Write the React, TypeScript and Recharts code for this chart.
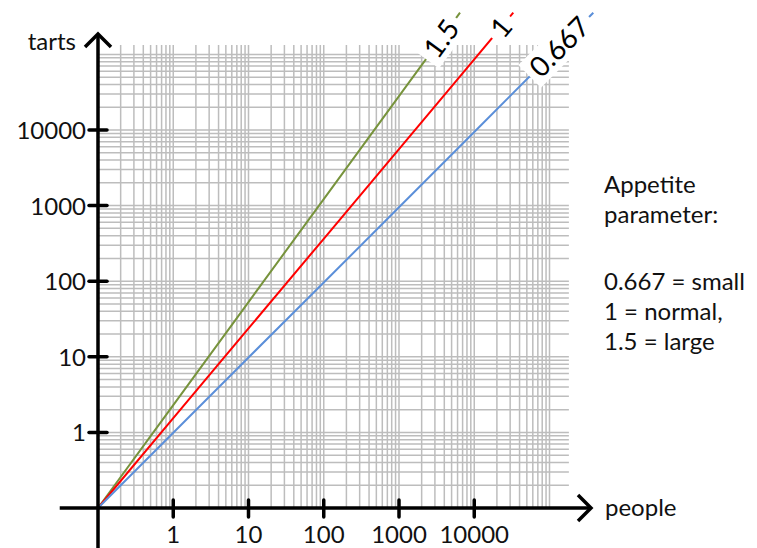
import { LineChart, Line, XAxis, YAxis, ReferenceLine, ReferenceDot } from 'recharts'

const FONT = 'Lato, "Open Sans", sans-serif'

// people -> tarts (log-log)
const large = [
  { x: 0.1, y: 0.1 },
  { x: 1, y: 2.3 },
  { x: 10, y: 53 },
  { x: 100, y: 1220 },
  { x: 1000, y: 28000 },
  { x: 6470, y: 356000 },
]
const normal = [
  { x: 0.1, y: 0.1 },
  { x: 1, y: 1.54 },
  { x: 10, y: 23.7 },
  { x: 100, y: 364 },
  { x: 1000, y: 5600 },
  { x: 10000, y: 86000 },
  { x: 33000, y: 356000 },
]
const small = [
  { x: 0.1, y: 0.1 },
  { x: 1, y: 0.99 },
  { x: 10, y: 9.8 },
  { x: 100, y: 96 },
  { x: 1000, y: 950 },
  { x: 10000, y: 9400 },
  { x: 100000, y: 93800 },
  { x: 382000, y: 356000 },
]

const xTicks = [1, 10, 100, 1000, 10000]
const yTicks = [1, 10, 100, 1000, 10000]
const tickLabels = ['1', '10', '100', '1000', '10000']

const decades = [0.1, 1, 10, 100, 1000, 10000]
const steps = [1, 2, 3, 4, 5, 6, 7, 8, 9]
const gridValues = [
  ...decades.flatMap((d) => steps.map((s) => +(d * s).toPrecision(3))).filter((v) => v > 0.1),
  100000,
]

const legendLines = ['Appetite', 'parameter:', '0.667 = small', '1 = normal,', '1.5 = large']

// pixel layout: 0.1 sits on the axes, one decade ~75px
const W = 757
const H = 548
const OX = 98
const OY = 508
const DX = 75.25
const DY = 75.6
const xDomain = [0.1 * 10 ** (-OX / DX), 0.1 * 10 ** ((W - OX) / DX)]
const yDomain = [0.1 * 10 ** (-(H - OY) / DY), 0.1 * 10 ** (OY / DY)]
const GRID_RIGHT = 181000
const GRID_TOP = 133000
const X_AXIS_LEFT = 0.031
const X_TIP = 356000
const Y_TIP = 186000

const GRID = '#bdbdbd'

const series = [
  { data: large, color: '#77933c', label: '1.5', angle: 53.8, dist: 32, w: 39 },
  { data: normal, color: '#ff0000', label: '1', angle: 50, dist: 19, w: 16 },
  { data: small, color: '#5b8fd9', label: '0.667', angle: 45, dist: 48, w: 72 },
]

const arrow = (dir: 'up' | 'right') => (p: any) => {
  const { cx, cy } = p
  const pts =
    dir === 'up'
      ? `${cx - 13},${cy + 13} ${cx},${cy} ${cx + 13},${cy + 13}`
      : `${cx - 13},${cy - 13} ${cx},${cy} ${cx - 13},${cy + 13}`
  return <polyline points={pts} fill="none" stroke="#000" strokeWidth={3.5} />
}

const xTick = (label: string) => (p: any) => (
  <g>
    <line x1={p.cx} x2={p.cx} y1={p.cy - 8} y2={p.cy + 9} stroke="#000" strokeWidth={3.5} strokeLinecap="round" />
    <text x={p.cx} y={p.cy + 35} textAnchor="middle" fontFamily={FONT} fontSize={24} fill="#111">
      {label}
    </text>
  </g>
)

const yTick = (label: string) => (p: any) => (
  <g>
    <line x1={p.cx - 9} x2={p.cx + 9} y1={p.cy} y2={p.cy} stroke="#000" strokeWidth={3.5} strokeLinecap="round" />
    <text x={p.cx - 12} y={p.cy + 9} textAnchor="end" fontFamily={FONT} fontSize={24} fill="#111">
      {label}
    </text>
  </g>
)

const lineLabel = (s: (typeof series)[number]) => (p: any) => {
  const a = (s.angle * Math.PI) / 180
  const x = p.cx - s.dist * Math.cos(a)
  const y = p.cy + s.dist * Math.sin(a)
  return (
    <g transform={`translate(${x},${y}) rotate(${-s.angle})`}>
      <rect x={-s.w / 2 - 6} y={-16} width={s.w + 12} height={32} fill="#fff" />
      <text x={0} y={10} textAnchor="middle" fontFamily={FONT} fontSize={28} fill="#000">
        {s.label}
      </text>
    </g>
  )
}

export default function App() {
  return (
    <div style={{ position: 'fixed', left: 0, top: 0, width: W, height: H, background: '#fff' }}>
      <LineChart width={W} height={H} margin={{ top: 0, right: 0, bottom: 0, left: 0 }}>
        <XAxis type="number" dataKey="x" scale="log" domain={xDomain} allowDataOverflow hide />
        <YAxis type="number" dataKey="y" scale="log" domain={yDomain} allowDataOverflow hide />
        {gridValues.map((v) => (
          <ReferenceLine
            key={`gx${v}`}
            segment={[{ x: v, y: 0.1 }, { x: v, y: GRID_TOP }]}
            stroke={GRID}
            strokeWidth={1.5}
          />
        ))}
        {gridValues.map((v) => (
          <ReferenceLine
            key={`gy${v}`}
            segment={[{ x: 0.1, y: v }, { x: GRID_RIGHT, y: v }]}
            stroke={GRID}
            strokeWidth={1.5}
          />
        ))}
        {series.map((s) => (
          <Line
            key={s.label}
            data={s.data}
            dataKey="y"
            type="linear"
            stroke={s.color}
            strokeWidth={2}
            dot={false}
            activeDot={false}
            isAnimationActive={false}
          />
        ))}
        <ReferenceLine segment={[{ x: X_AXIS_LEFT, y: 0.1 }, { x: X_TIP, y: 0.1 }]} stroke="#000" strokeWidth={3.5} />
        <ReferenceLine segment={[{ x: 0.1, y: yDomain[0] }, { x: 0.1, y: Y_TIP }]} stroke="#000" strokeWidth={3.5} />
        <ReferenceDot x={X_TIP} y={0.1} r={0} shape={arrow('right')} />
        <ReferenceDot x={0.1} y={Y_TIP} r={0} shape={arrow('up')} />
        {xTicks.map((v, i) => (
          <ReferenceDot key={`xt${v}`} x={v} y={0.1} r={0} shape={xTick(tickLabels[i])} />
        ))}
        {yTicks.map((v, i) => (
          <ReferenceDot key={`yt${v}`} x={0.1} y={v} r={0} shape={yTick(tickLabels[i])} />
        ))}
        {series.map((s) => {
          const end = s.data[s.data.length - 1]
          return <ReferenceDot key={`lb${s.label}`} x={end.x} y={end.y} r={0} shape={lineLabel(s)} />
        })}
      </LineChart>
      <svg width={W} height={H} style={{ position: 'absolute', left: 0, top: 0, pointerEvents: 'none' }}>
        <text x={76} y={50} textAnchor="end" fontFamily={FONT} fontSize={24} fill="#111">
          tarts
        </text>
        <text x={605} y={516} fontFamily={FONT} fontSize={24} fill="#111">
          people
        </text>
        {legendLines.map((t, i) => (
          <text key={t} x={604} y={[193, 223, 290, 320, 350][i]} fontFamily={FONT} fontSize={24} fill="#111">
            {t}
          </text>
        ))}
      </svg>
    </div>
  )
}
